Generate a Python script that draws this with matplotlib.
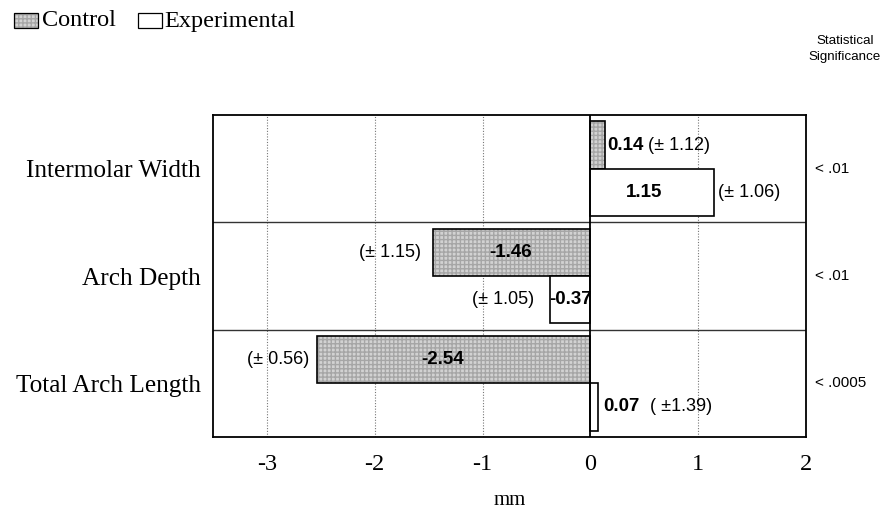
import matplotlib
matplotlib.use('Agg')
import matplotlib.pyplot as plt
from matplotlib.patches import Rectangle
import numpy as np

# data
measures = ['Intermolar Width', 'Arch Depth', 'Total Arch Length']
control = [0.14, -1.46, -2.54]
experimental = [1.15, -0.37, 0.07]
control_sd = ['(± 1.12)', '(± 1.15)', '(± 0.56)']
experimental_sd = ['(± 1.06)', '(± 1.05)', '( ±1.39)']
significance = ['< .01', '< .01', '< .0005']
xticks = [-3, -2, -1, 0, 1, 2]

serif = 'Liberation Serif'
sans = 'Liberation Sans'

fig = plt.figure(figsize=(8.83, 5.17), dpi=100)
ax = fig.add_axes([213/883, 1-437/517, 593/883, 322/517])

y = np.arange(len(measures))
h = 0.44
yc = y - h/2
ye = y + h/2

# control bars: grey texture + black outline
ax.barh(yc, control, height=h, color='#d2d2d2', edgecolor='#a6a6a6', hatch='++++', linewidth=0, zorder=2)
ax.barh(yc, control, height=h, color='none', edgecolor='black', linewidth=1.2, zorder=3)
ax.barh(ye, experimental, height=h, color='white', edgecolor='black', linewidth=1.2, zorder=3)

ax.set_xlim(-3.5, 2)
ax.set_ylim(2.5, -0.5)
ax.set_xticks(xticks)
ax.set_xticklabels([str(t) for t in xticks], fontfamily=serif, fontsize=17.5)
ax.set_yticks(y)
ax.set_yticklabels(measures, fontfamily=serif, fontsize=18.2)
ax.tick_params(length=0)
ax.tick_params(axis='x', pad=12)
ax.tick_params(axis='y', pad=9)
ax.set_xlabel('mm', fontfamily=serif, fontsize=15, labelpad=12)

for t in [-3, -2, -1, 1]:
    ax.axvline(t, color='#777777', linestyle=(0, (1, 1.5)), linewidth=0.8, zorder=1)
ax.axvline(0, color='black', linewidth=1.3, zorder=4)
for s in [0.5, 1.5]:
    ax.axhline(s, color='#333333', linewidth=1.0, zorder=1)
for sp in ax.spines.values():
    sp.set_linewidth(1.3)

bold = dict(fontfamily=sans, fontsize=13.5, fontweight='bold', va='center', zorder=5)
norm = dict(fontfamily=sans, fontsize=13, va='center', zorder=5)

# value labels
ax.text(0.16, yc[0], '0.14', ha='left', **bold)
ax.text(0.53, yc[0], control_sd[0], ha='left', **norm)
ax.text(0.50, ye[0], '1.15', ha='center', **bold)
ax.text(1.18, ye[0], experimental_sd[0], ha='left', **norm)

ax.text(-0.74, yc[1], '-1.46', ha='center', **bold)
ax.text(-1.57, yc[1], control_sd[1], ha='right', **norm)
ax.text(-0.38, ye[1], '-0.37', ha='left', **bold)
ax.text(-0.52, ye[1], experimental_sd[1], ha='right', **norm)

ax.text(-1.37, yc[2], '-2.54', ha='center', **bold)
ax.text(-2.61, yc[2], control_sd[2], ha='right', **norm)
ax.text(0.12, ye[2], '0.07', ha='left', **bold)
ax.text(0.55, ye[2], experimental_sd[2], ha='left', **norm)

tr = ax.get_yaxis_transform()
for yi, s in zip(y, significance):
    ax.text(1.015, yi, s, transform=tr, ha='left', va='center', fontfamily=sans, fontsize=11)

fig.text(845/883, 1-49/517, 'Statistical\nSignificance', ha='center', va='center',
         fontfamily=sans, fontsize=9.6, linespacing=1.4)

# legend
fig.patches.append(Rectangle((14/883, 1-28/517), 24/883, 15/517, transform=fig.transFigure,
                             facecolor='#d2d2d2', edgecolor='#a6a6a6', hatch='++++', linewidth=0))
fig.patches.append(Rectangle((14/883, 1-28/517), 24/883, 15/517, transform=fig.transFigure,
                             facecolor='none', edgecolor='black', linewidth=0.9))
fig.text(42/883, 1-21/517, 'Control', ha='left', va='center', fontfamily=serif, fontsize=17.5)
fig.patches.append(Rectangle((138/883, 1-28/517), 24/883, 15/517, transform=fig.transFigure,
                             facecolor='white', edgecolor='black', linewidth=0.9))
fig.text(164/883, 1-21/517, 'Experimental', ha='left', va='center', fontfamily=serif, fontsize=17.5)

fig.savefig('out.png', dpi=100)
